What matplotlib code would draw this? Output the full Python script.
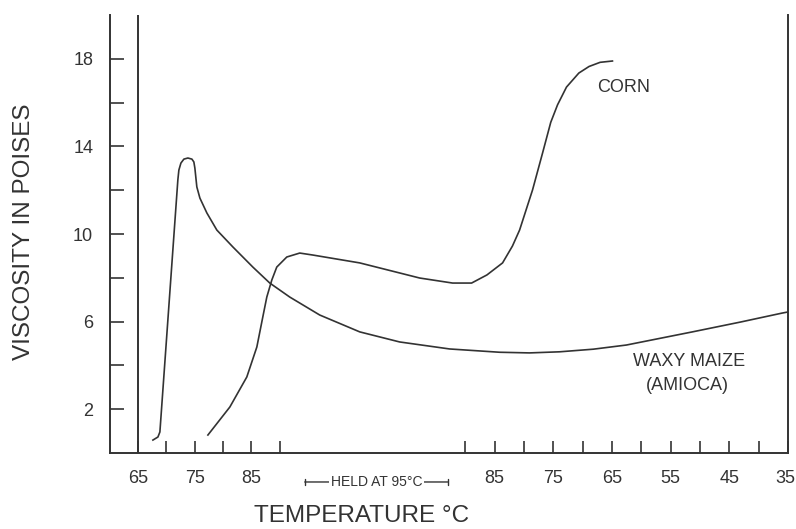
import matplotlib
matplotlib.use("Agg")
import matplotlib.pyplot as plt
import matplotlib.transforms as mtransforms

plt.rcParams['font.family'] = ['Liberation Sans', 'DejaVu Sans']

# ---- time scale (minutes): heat 65->95, hold at 95, cool 95->35 ----
start_temp = 65
hold_temp = 95
heat_rate = 1.5     # deg C per minute
hold_end = 35.0     # minute when cooling starts
cool_rate = 1.45    # deg C per minute
end_temp = 35

heat_ticks = [65, 70, 75, 80, 85, 90]
heat_labels = ['65', '', '75', '', '85', '']
cool_ticks = [90, 85, 80, 75, 70, 65, 60, 55, 50, 45, 40, 35]
cool_labels = ['', '85', '', '75', '', '65', '', '55', '', '45', '', '35']

y_ticks = [2, 4, 6, 8, 10, 12, 14, 16, 18]
y_labels = ['2', '', '6', '', '10', '', '14', '', '18']

# ---- series (x = minutes, y = poises) ----
corn_t = [8.22, 10.80, 12.79, 13.97, 14.67, 15.14, 15.73, 16.31, 17.49, 19.01,
          20.54, 26.06, 33.10, 36.97, 39.20, 41.00, 42.84, 44.00, 44.84, 46.36,
          47.54, 48.50, 49.30, 50.35, 51.80, 53.00, 54.30, 55.75]
corn_v = [0.82, 2.10, 3.47, 4.84, 6.21, 7.12, 7.90, 8.49, 8.95, 9.13,
          9.04, 8.68, 7.99, 7.76, 7.76, 8.13, 8.68, 9.45, 10.18, 12.01,
          13.70, 15.10, 15.90, 16.71, 17.35, 17.65, 17.84, 17.90]

waxy_t = [1.76, 2.35, 2.58, 4.69, 4.81, 5.05, 5.40, 5.87, 6.34, 6.57, 6.69,
          6.81, 6.92, 7.28, 8.10, 9.27, 11.15, 13.50, 15.49, 17.84, 21.36,
          26.06, 30.75, 36.62, 42.49, 46.00, 49.53, 53.50, 57.39, 65.14, 70.80,
          75.70, 76.38]
waxy_v = [0.59, 0.73, 0.96, 12.47, 12.92, 13.24, 13.42, 13.47, 13.42, 13.29, 13.01,
          12.56, 12.15, 11.64, 10.96, 10.18, 9.41, 8.49, 7.76, 7.12, 6.30,
          5.53, 5.07, 4.75, 4.60, 4.57, 4.62, 4.74, 4.93, 5.53, 5.98,
          6.39, 6.44]


def heat_pos(T):
    return (T - start_temp) / heat_rate


def cool_pos(T):
    return hold_end + (hold_temp - T) / cool_rate


hold_start = heat_pos(hold_temp)
x_end = cool_pos(end_temp)

ink = '#333333'
fig = plt.figure(figsize=(7.96, 5.29), dpi=100)
ax = fig.add_axes([0.138, 0.1437, 0.990 - 0.138, 0.9716 - 0.1437])

ax.plot(corn_t, corn_v, color=ink, lw=1.2, solid_joinstyle='round')
ax.plot(waxy_t, waxy_v, color=ink, lw=1.2, solid_joinstyle='round')
ax.axvline(heat_pos(start_temp), color=ink, lw=1.4)

ax.set_xlim(heat_pos(start_temp) - 3.3, x_end)
ax.set_ylim(0, 20)

ax.spines['top'].set_visible(False)
for s in ['left', 'right', 'bottom']:
    ax.spines[s].set_color(ink)
    ax.spines[s].set_linewidth(1.4)

xt = [heat_pos(T) for T in heat_ticks] + [cool_pos(T) for T in cool_ticks]
xl = heat_labels + cool_labels
ax.set_xticks(xt)
ax.set_xticklabels(xl)
ax.set_yticks(y_ticks)
ax.set_yticklabels(y_labels)
ax.tick_params(axis='both', direction='in', color=ink, labelcolor=ink,
               labelsize=13, width=1.2, pad=12)
ax.tick_params(axis='x', length=9)
ax.tick_params(axis='y', length=10)

# last label sits against the right edge, as in the original
last = ax.get_xticklabels()[-1]
last.set_horizontalalignment('right')
last.set_transform(last.get_transform() +
                   mtransforms.ScaledTranslation(7 / 100, 0, fig.dpi_scale_trans))

ax.set_ylabel('VISCOSITY IN POISES', fontsize=17.5, color=ink, va='center')
ax.set_xlabel('TEMPERATURE °C', fontsize=17.5, color=ink, va='center')
ax.xaxis.set_label_coords((362 - 110) / (788 - 110), -(516 - 453) / 438)
ax.yaxis.set_label_coords(-(110 - 24) / (788 - 110), (453 - 232) / 438)

trans = mtransforms.blended_transform_factory(ax.transData, ax.transAxes)
yb = -(482 - 453) / 438
ax.annotate('', xy=(hold_start - 0.4, yb), xytext=(hold_end + 1.4, yb),
            xycoords=trans, textcoords=trans, annotation_clip=False,
            arrowprops=dict(arrowstyle='|-|, widthA=0.25, widthB=0.25',
                            color=ink, lw=1.0, shrinkA=0, shrinkB=0))
ax.text((hold_start + hold_end + 1.0) / 2, yb, 'HELD AT 95°C', transform=trans,
        ha='center', va='center', fontsize=10, color=ink,
        bbox=dict(facecolor='white', edgecolor='none', pad=1.2))

ax.text(53.9, 16.7, 'CORN', fontsize=13, color=ink, ha='left', va='center')
ax.text(58.2, 4.16, 'WAXY MAIZE', fontsize=13, color=ink, ha='left', va='center')
ax.text(59.7, 3.1, '(AMIOCA)', fontsize=13, color=ink, ha='left', va='center')

fig.savefig('out.png', dpi=100)
